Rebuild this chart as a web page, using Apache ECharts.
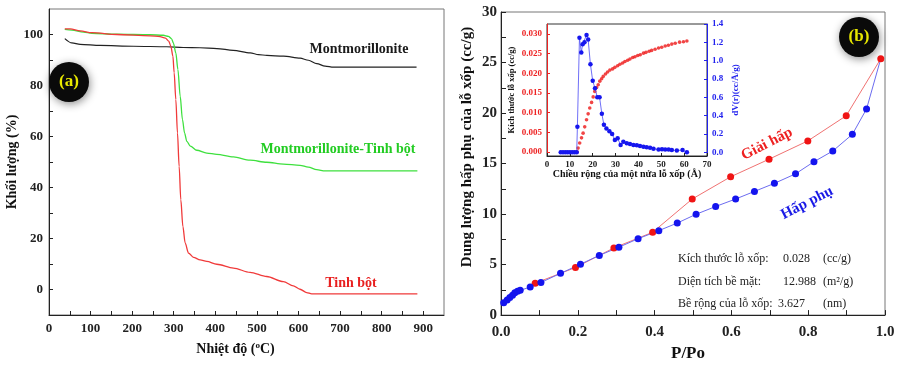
<!DOCTYPE html>
<html>
<head>
<meta charset="utf-8">
<script src="https://cdn.jsdelivr.net/npm/echarts@6/dist/echarts.min.js"></script>
<style>
  html, body {margin: 0; padding: 0; background: #fff;}
  #chart {width: 900px; height: 367px;}
</style>
</head>
<body>
<div id="chart"></div>
<script>
// (a) TGA curves: [temperature °C, mass %]
var montmorillonite = [[38,98.4],[55,96.7],[75,96.1],[123,95.7],[203,95.4],[283,95.2],[323,94.9],[363,94.8],[404,94.5],[443,93.8],[484,92.8],[504,92.1],[524,91.8],[564,91.5],[604,90.7],[624,89.9],[644,88.6],[664,87.6],[684,87.2],[724,87.2],[884,87.2]];
var composite = [[38,102.0],[55,101.7],[83,100.9],[103,100.5],[163,100.1],[243,99.9],[275,99.7],[287,99.3],[295,98.3],[299,96.7],[305,92.8],[310,86.3],[315.5,75.8],[321,66.6],[326,61.4],[331.5,58.1],[340,56.2],[355.5,54.6],[379.5,53.5],[403.6,53.0],[443.6,52.0],[483.6,50.7],[523.6,49.9],[563.7,49.2],[603.7,48.7],[623.7,48.0],[643.8,47.0],[663.8,46.5],[684,46.5],[886,46.5]];
var starch = [[38,102.2],[51,102.2],[75,101.4],[103,100.7],[163,100.0],[243,99.5],[267,99.2],[280,98.6],[288,97.4],[293,95.4],[298,91.5],[301,85.0],[305,74.5],[309,61.4],[313,48.3],[317,35.2],[322,24.7],[327.5,18.2],[335.5,14.3],[347.5,12.6],[363.5,11.6],[379.5,11.0],[403.6,9.9],[443.6,8.4],[483.6,6.7],[523.6,5.1],[563.7,3.1],[587.7,1.4],[603.7,0.1],[619.7,-1.2],[631.8,-1.7],[684,-1.7],[886,-1.7]];
var tgaXLabels = [0,100,200,300,400,500,600,700,800,900];
var tgaXTicks = [0,50,100,150,200,250,300,350,400,450,500,550,600,650,700,750,800,850,900];
var tgaYLabels = [0,20,40,60,80,100];
var tgaYTicks = [0,10,20,30,40,50,60,70,80,90,100];

// (b) isotherm: [P/Po, cc/g]
var adsorption = [[0.007,1.23],[0.016,1.49],[0.023,1.74],[0.030,1.97],[0.036,2.2],[0.043,2.36],[0.050,2.45],[0.076,2.78],[0.104,3.23],[0.155,4.13],[0.207,5.04],[0.256,5.91],[0.307,6.72],[0.357,7.56],[0.411,8.36],[0.459,9.11],[0.508,9.98],[0.559,10.75],[0.611,11.49],[0.660,12.24],[0.712,13.04],[0.767,13.98],[0.815,15.18],[0.864,16.24],[0.915,17.89],[0.952,20.41],[0.989,25.38]];
var desorption = [[0.989,25.38],[0.899,19.73],[0.799,17.24],[0.698,15.43],[0.598,13.69],[0.498,11.49],[0.395,8.2],[0.294,6.65],[0.194,4.71],[0.089,3.16]];

// inset: [half pore width Å, value]
var poreVolume = [[13.2,0],[13.6,0.001],[14.3,0.0023],[15.1,0.0036],[15.8,0.0048],[16.5,0.0064],[17.3,0.0082],[18.0,0.0097],[18.7,0.0112],[19.5,0.0126],[20.2,0.014],[20.9,0.0154],[21.7,0.0164],[22.4,0.0171],[23.1,0.018],[23.9,0.0186],[24.6,0.0192],[25.6,0.0198],[26.5,0.0203],[27.5,0.0208],[28.7,0.0211],[29.7,0.0215],[30.9,0.0219],[31.9,0.0223],[33.1,0.0226],[34.1,0.023],[35.3,0.0233],[36.3,0.0236],[37.5,0.024],[38.5,0.0242],[39.7,0.0245],[40.8,0.0247],[42.2,0.0251],[43.3,0.0253],[44.7,0.0256],[45.8,0.0258],[47.3,0.0261],[48.8,0.0264],[50.2,0.0266],[51.7,0.0269],[53.1,0.0271],[54.6,0.0274],[56.1,0.0276],[58.0,0.0279],[59.7,0.028],[61.2,0.0282]];
var poreDist = [[6,0],[7,0],[8,0],[9,0],[10,0],[11,0],[12,0],[13,0],[13.3,0.28],[14.2,1.25],[15.0,1.09],[15.6,1.18],[16.4,1.20],[17.3,1.28],[18.0,1.23],[19.0,0.96],[20.0,0.78],[21.0,0.70],[22.0,0.60],[23.0,0.60],[24.0,0.42],[24.9,0.30],[26.0,0.26],[27.3,0.23],[28.5,0.20],[29.7,0.135],[30.9,0.153],[32.2,0.08],[33.4,0.116],[34.9,0.098],[36.3,0.09],[37.8,0.08],[39.3,0.077],[40.7,0.07],[42.2,0.06],[43.6,0.055],[45.1,0.05],[46.6,0.04],[48.8,0.03],[50.3,0.035],[51.7,0.03],[53.2,0.03],[54.6,0.025],[56.8,0.02],[59.3,0.025],[61.2,0]];
var insetLeftLabels = [0,0.005,0.010,0.015,0.020,0.025,0.030];
var insetRightLabels = [0,0.2,0.4,0.6,0.8,1.0,1.2,1.4];

var serif = 'Liberation Serif';
var chart = echarts.init(document.getElementById('chart'), null, {renderer: 'canvas'});

function txt(size, color, bold) {
    return {fontFamily: serif, fontSize: size, color: color || '#111', fontWeight: bold === false ? 'normal' : 'bold'};
}
// graphic text uses fill instead of color
function gtxt(size, color, bold) {
    return {fontFamily: serif, fontSize: size, fill: color || '#111', fontWeight: bold === false ? 'normal' : 'bold'};
}
function badge(x, y, label) {
    return [
        {type: 'circle', shape: {cx: x, cy: y, r: 20}, z: 10,
         style: {fill: '#0a0a0a', shadowBlur: 8, shadowColor: 'rgba(0,0,0,0.45)', shadowOffsetX: 1, shadowOffsetY: 2}},
        {type: 'text', x: x, y: y, z: 11, style: Object.assign({text: label, align: 'center', verticalAlign: 'middle'}, gtxt(17, '#e8e800'))}
    ];
}
function note(x, y, s, size, color, rot) {
    return {type: 'text', x: x, y: y, rotation: rot || 0, z: 10,
        style: Object.assign({text: s, align: 'center', verticalAlign: 'middle'}, gtxt(size, color))};
}
function left(x, y, s) {
    return {type: 'text', x: x, y: y, z: 10,
        style: Object.assign({text: s, align: 'left', verticalAlign: 'middle'}, gtxt(12, '#222', false))};
}

var axisLine = {onZero: false, lineStyle: {color: '#222', width: 1}};

var option = {
    backgroundColor: '#fff',
    animation: false,
    grid: [
        {left: 49, right: 456, top: 9, bottom: 52, show: true, borderColor: '#777', borderWidth: 1},
        {left: 501, right: 15, top: 12, bottom: 45, show: true, borderColor: '#777', borderWidth: 1},
        {left: 547, right: 193, top: 24, bottom: 211, show: true, borderColor: '#333', borderWidth: 1, backgroundColor: '#fff'}
    ],
    xAxis: [
        {gridIndex: 0, type: 'value', min: 0, max: 950, splitLine: {show: false}, axisLine: axisLine,
         axisTick: {inside: true, length: 4, customValues: tgaXTicks, lineStyle: {color: '#222'}},
         axisLabel: Object.assign({customValues: tgaXLabels, margin: 7}, txt(13, '#222')),
         name: 'Nhiệt độ ({s|o}C)', nameLocation: 'middle', nameGap: 26,
         nameTextStyle: Object.assign({padding: [0, 22, 0, 0], rich: {s: {fontFamily: serif, fontSize: 9, fontWeight: 'bold', color: '#111', padding: [0, 0, 7, 0]}}}, txt(14))},
        {gridIndex: 1, type: 'value', min: 0, max: 1, interval: 0.2, splitLine: {show: false}, axisLine: axisLine,
         axisTick: {inside: true, length: 5, lineStyle: {color: '#222'}},
         minorTick: {show: true, splitNumber: 2, length: 5, lineStyle: {color: '#222'}},
         axisLabel: Object.assign({margin: 10, formatter: function(v) {return v.toFixed(1)}}, txt(15, '#222')),
         name: 'P/Po', nameLocation: 'middle', nameGap: 28, nameTextStyle: Object.assign({padding: [0, 10, 0, 0]}, txt(17))},
        {gridIndex: 2, type: 'value', min: 0, max: 70, interval: 10, splitLine: {show: false}, axisLine: axisLine,
         axisTick: {inside: true, length: 3, lineStyle: {color: '#222'}},
         axisLabel: Object.assign({margin: 4}, txt(9, '#222')),
         name: 'Chiều rộng của một nửa lỗ xốp (Å)', nameLocation: 'middle', nameGap: 13, nameTextStyle: txt(10)}
    ],
    yAxis: [
        {gridIndex: 0, type: 'value', min: -10, max: 110, splitLine: {show: false}, axisLine: axisLine,
         axisTick: {inside: true, length: 4, customValues: tgaYTicks, lineStyle: {color: '#222'}},
         axisLabel: Object.assign({customValues: tgaYLabels, margin: 6}, txt(13, '#222')),
         name: 'Khối lượng (%)', nameLocation: 'middle', nameGap: 29, nameTextStyle: txt(14)},
        {gridIndex: 1, type: 'value', min: 0, max: 30, interval: 5, splitLine: {show: false}, axisLine: axisLine,
         axisTick: {inside: true, length: 5, lineStyle: {color: '#222'}},
         minorTick: {show: true, splitNumber: 2, length: 5, lineStyle: {color: '#222'}},
         axisLabel: Object.assign({margin: 4}, txt(15, '#222'))},
        {gridIndex: 2, type: 'value', min: -0.001, max: 0.0325, splitLine: {show: false},
         axisLine: {onZero: false, lineStyle: {color: '#ee2222'}},
         axisTick: {inside: true, length: 3, customValues: insetLeftLabels, lineStyle: {color: '#ee2222'}},
         axisLabel: Object.assign({customValues: insetLeftLabels, margin: 5, formatter: function(v) {return v.toFixed(3)}}, txt(9, '#ee2222')),
         name: 'Kích thước lỗ xốp (cc/g)', nameLocation: 'middle', nameGap: 31, nameTextStyle: txt(8.5)},
        {gridIndex: 2, type: 'value', position: 'right', min: -0.04, max: 1.4, splitLine: {show: false},
         axisLine: {show: true, onZero: false, lineStyle: {color: '#2222ee'}},
         axisTick: {show: true, inside: true, length: 3, customValues: insetRightLabels, lineStyle: {color: '#2222ee'}},
         axisLabel: Object.assign({customValues: insetRightLabels, margin: 5, formatter: function(v) {return v.toFixed(1)}}, txt(9, '#2222ee')),
         name: 'dV(r)(cc/Å/g)', nameLocation: 'middle', nameGap: 24, nameRotate: 90, nameTextStyle: txt(9, '#2222ee')}
    ],
    series: [
        {type: 'line', xAxisIndex: 0, yAxisIndex: 0, data: montmorillonite, showSymbol: false, smooth: 0.3, smoothMonotone: 'x',
         lineStyle: {color: '#222', width: 1.2}},
        {type: 'line', xAxisIndex: 0, yAxisIndex: 0, data: composite, showSymbol: false, smooth: 0.3, smoothMonotone: 'x',
         lineStyle: {color: '#3ee03e', width: 1.3}},
        {type: 'line', xAxisIndex: 0, yAxisIndex: 0, data: starch, showSymbol: false, smooth: 0.3, smoothMonotone: 'x',
         lineStyle: {color: '#f03a3a', width: 1.3}},

        {type: 'line', xAxisIndex: 1, yAxisIndex: 1, data: desorption, symbol: 'circle', symbolSize: 7,
         itemStyle: {color: '#f01414'}, lineStyle: {color: '#f07272', width: 1}},
        {type: 'line', xAxisIndex: 1, yAxisIndex: 1, symbol: 'circle', symbolSize: 7,
         data: adsorption.map(function(p, i) {return i === adsorption.length - 1 ? {value: p, symbol: 'none'} : p}),
         itemStyle: {color: '#1414ee'}, lineStyle: {color: '#6c6cf0', width: 1}},

        {type: 'scatter', xAxisIndex: 2, yAxisIndex: 2, data: poreVolume, symbolSize: 3.6, itemStyle: {color: '#ee1616'}},
        {type: 'line', xAxisIndex: 2, yAxisIndex: 3, data: poreDist, symbol: 'circle', symbolSize: 4.5,
         itemStyle: {color: '#1616ee'}, lineStyle: {color: '#4a4af5', width: 0.8}}
    ],
    graphic: [].concat(
        badge(69, 82, '(a)'),
        badge(859, 37, '(b)'),
        [
            note(359, 49, 'Montmorillonite', 14, '#1a1a1a'),
            note(338, 149, 'Montmorillonite-Tinh bột', 14, '#22cc22'),
            note(351, 283, 'Tinh bột', 14, '#e82020'),
            note(767, 144, 'Giải hấp', 15, '#ee2020', 27 * Math.PI / 180),
            note(807, 203, 'Hấp phụ', 15, '#1a1ae6', 27 * Math.PI / 180),
            note(467, 147, 'Dung lượng hấp phụ của lỗ xốp (cc/g)', 15, '#111', Math.PI / 2),
            left(678, 259, 'Kích thước lỗ xốp:'), left(783, 259, '0.028'), left(823, 259, '(cc/g)'),
            left(678, 282, 'Diện tích bề mặt:'), left(783, 282, '12.988'), left(823, 282, '(m²/g)'),
            left(678, 304, 'Bề rộng của lỗ xốp:'), left(778, 304, '3.627'), left(823, 304, '(nm)')
        ]
    )
};
chart.setOption(option);
</script>
</body>
</html>
